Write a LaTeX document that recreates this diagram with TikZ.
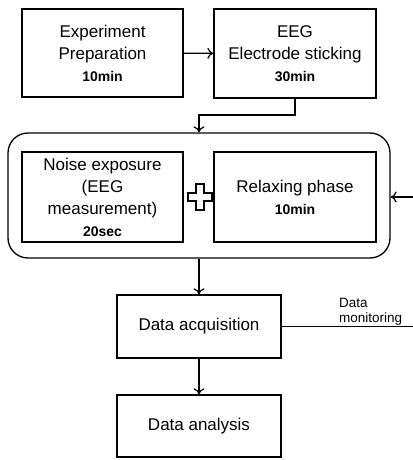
\documentclass[tikz,border=0pt]{standalone}
\usepackage{fontspec}
\setmainfont{Liberation Sans}
\usetikzlibrary{arrows.meta}

\tikzset{
  stepbox/.style={draw, line width=1.3pt, align=center, inner sep=0pt,
    font=\fontsize{17}{22}\selectfont},
  flow/.style={line width=1.3pt, -{To[length=6pt,width=11pt,line width=1.2pt]}},
  small/.style={font=\fontsize{13.5}{15}\selectfont}
}
\newcommand{\timetag}[1]{{\fontsize{14}{15}\selectfont\bfseries #1}}

\begin{document}
\begin{tikzpicture}[x=1pt,y=-1pt]
        \useasboundingbox (0,0) rectangle (412,460);

        % Draw the first two steps
        \node[stepbox, minimum width=161, minimum height=88] (prep) at (102.5,53)
          {Experiment\\Preparation\\\timetag{10min}};
        \node[stepbox, minimum width=162, minimum height=89] (elec) at (295,53.5)
          {EEG\\Electrode sticking\\\timetag{30min}};

        % Draw the repeated block
        \node[draw, line width=1.3pt, rounded corners=20pt, minimum width=382,
          minimum height=125] (group) at (199,195.5) {};
        \node[stepbox, minimum width=161, minimum height=90] (noise) at (102.5,197)
          {Noise exposure\\(EEG\\measurement)\\\timetag{20sec}};
        \node[stepbox, minimum width=162, minimum height=90] (relax) at (295,197)
          {Relaxing phase\\\timetag{10min}};

        % Draw the plus sign between the two phases
        \draw[line width=2.6pt] (196,184) -- (204,184) -- (204,193) -- (212,193) -- (212,201)
          -- (204,201) -- (204,210) -- (196,210) -- (196,201) -- (188,201) -- (188,193)
          -- (196,193) -- cycle;

        % Draw the data steps
        \node[stepbox, minimum width=164, minimum height=63] (acq) at (199,326.5)
          {Data acquisition};
        \node[stepbox, minimum width=164, minimum height=62] (ana) at (199,426)
          {Data analysis};

        % Draw the arrows between the steps
        \coordinate (bend) at (199,115);
        \draw[flow] (prep) -- (elec);
        \draw[flow] (elec.south) |- (bend) -- (group.north);
        \draw[flow] (group.south) -- (acq.north);
        \draw[flow] (acq) -- (ana);

        % Draw the monitoring loop back to the block
        \coordinate (back) at (425,197);
        \draw[flow] (acq.east) -| (back) -- (group.east |- back);
        \node[small, align=left, anchor=south west, inner sep=1pt] (mon) at (338,326)
          {Data\\monitoring};
\end{tikzpicture}
\end{document}
